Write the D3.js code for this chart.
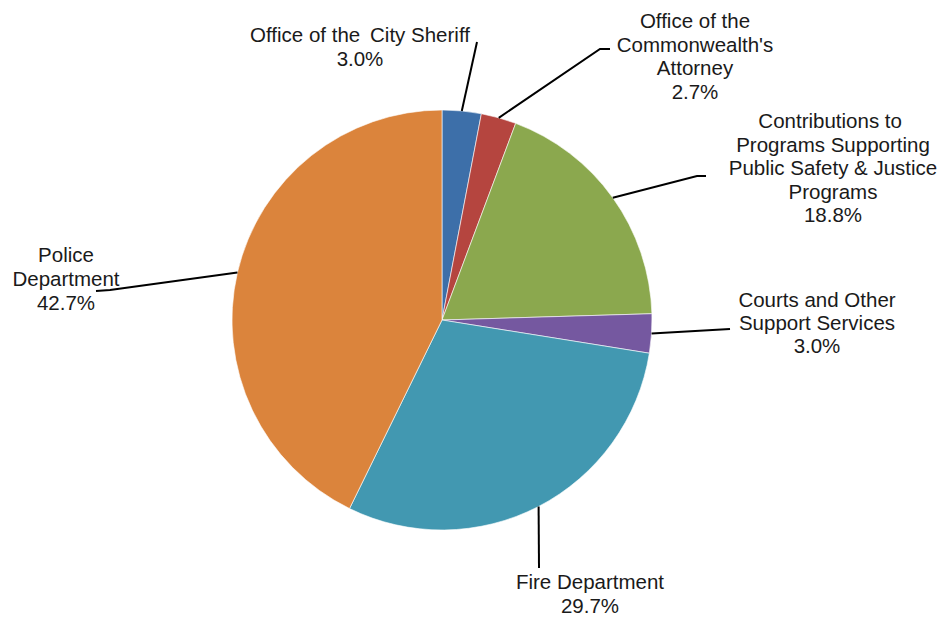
<!DOCTYPE html>
<html>
<head>
<meta charset="utf-8">
<script src="https://cdn.jsdelivr.net/npm/d3@7/dist/d3.min.js"></script>
<style>
  html, body { margin: 0; padding: 0; background: #fff; }
  svg { display: block; }
  text { font-family: "Liberation Sans", Arial, sans-serif; font-size: 20.5px; fill: #1a1a1a; white-space: pre; }
</style>
</head>
<body>
<div id="chart"></div>
<script>
// data
var categories = [
  ['Office of the \u2009City Sheriff'],
  ['Office of the', "Commonwealth's", 'Attorney'],
  ['Contributions to ', 'Programs Supporting', 'Public Safety & Justice', 'Programs'],
  ['Courts and Other', 'Support Services'],
  ['Fire Department'],
  ['Police', 'Department']
];
var values = [3.0, 2.7, 18.8, 3.0, 29.7, 42.7];
var colors = ['#3d6fa9', '#b5453f', '#8ba84e', '#7558a0', '#4298b1', '#db843c'];

// layout of labels: text centre, first baseline, line step, leader-line bends
var labelPos = [
  { x: 360, y: 42, step: 24, bend: [[477, 42]] },
  { x: 695, y: 28, step: 23.5, bend: [[600, 49], [610, 49]] },
  { x: 833, y: 128, step: 23.5, bend: [[697, 176], [706, 176]] },
  { x: 817, y: 307, step: 23, bend: [[730, 329]] },
  { x: 590, y: 589, step: 24, bend: [[539, 568]] },
  { x: 66, y: 262, step: 24, bend: [[110, 290], [96, 291]] }
];

var W = 952, H = 617;
var cx = 442, cy = 320, R = 210;

var svg = d3.select('#chart').append('svg')
    .attr('width', W).attr('height', H);

var pie = d3.pie().sort(null).value(function(d) { return d; });
var arcs = pie(values);
var arc = d3.arc().innerRadius(0).outerRadius(R);

var g = svg.append('g').attr('transform', 'translate(' + cx + ',' + cy + ')');

g.selectAll('path.slice').data(arcs).enter().append('path')
    .attr('class', 'slice')
    .attr('d', arc)
    .attr('fill', function(d, i) { return colors[i]; })
    .attr('stroke', '#ffffff')
    .attr('stroke-width', 0.6);

// leader lines start at the arc midpoint of each slice
var line = d3.line();
arcs.forEach(function(d, i) {
  var a = (d.startAngle + d.endAngle) / 2;
  var start = [cx + R * Math.sin(a), cy - R * Math.cos(a)];
  var pts = [start].concat(labelPos[i].bend);
  svg.append('path')
      .attr('d', line(pts))
      .attr('fill', 'none')
      .attr('stroke', '#000')
      .attr('stroke-width', 2);
});

// labels
categories.forEach(function(lines, i) {
  var p = labelPos[i];
  var all = lines.concat([values[i].toFixed(1) + '%']);
  var t = svg.append('text')
      .attr('text-anchor', 'middle');
  all.forEach(function(s, j) {
    t.append('tspan')
        .attr('x', p.x)
        .attr('y', p.y + j * p.step)
        .text(s);
  });
});
</script>
</body>
</html>
